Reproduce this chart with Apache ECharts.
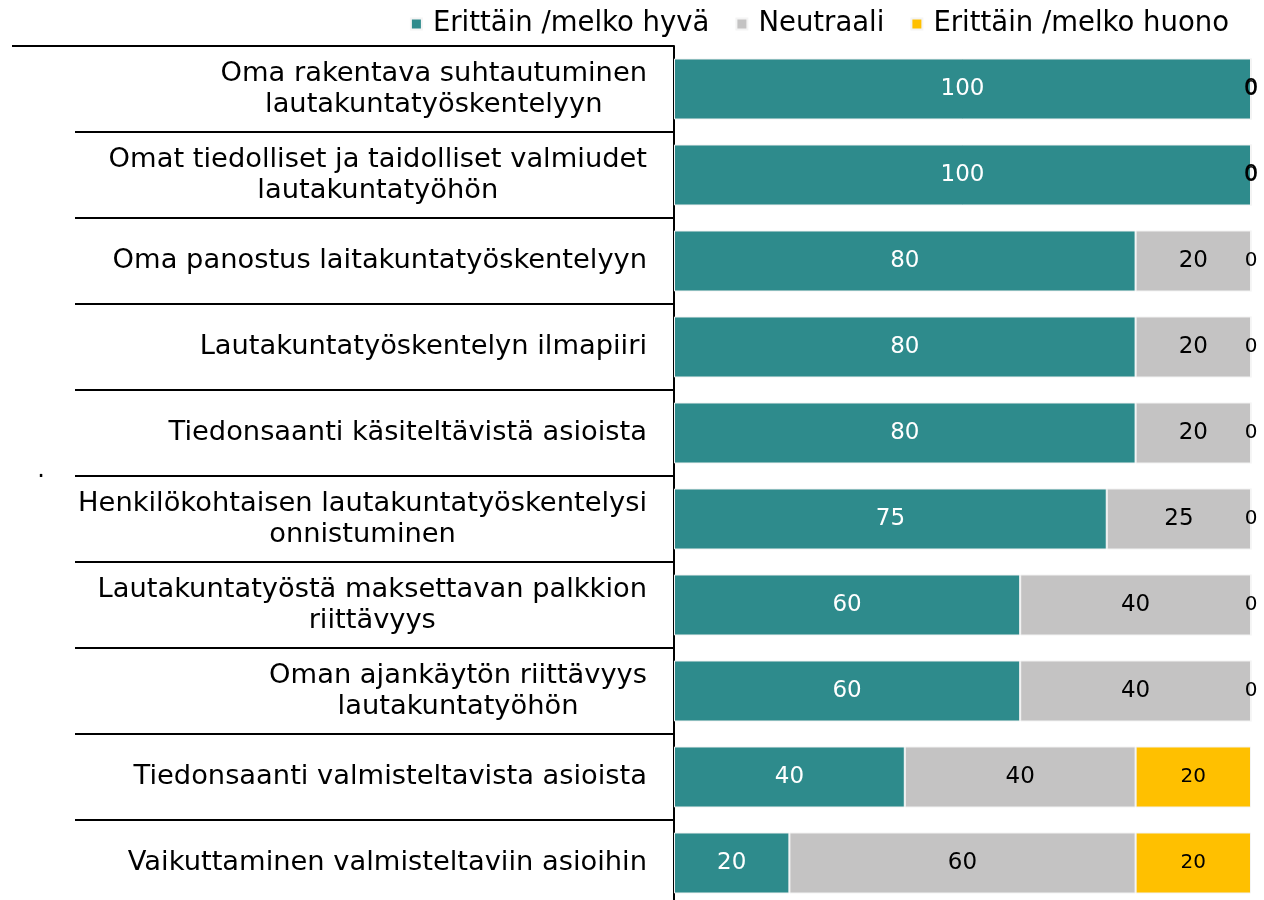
<!DOCTYPE html>
<html>
<head>
<meta charset="utf-8">
<script src="https://cdn.jsdelivr.net/npm/echarts@6/dist/echarts.min.js"></script>
<style>
  html, body { margin: 0; padding: 0; background: #fff; }
  #chart { width: 1264px; height: 900px; }
</style>
</head>
<body>
<div id="chart"></div>
<script>
var categories = [
  "Oma rakentava suhtautuminen\nlautakuntatyöskentelyyn",
  "Omat tiedolliset ja taidolliset valmiudet\nlautakuntatyöhön",
  "Oma panostus laitakuntatyöskentelyyn",
  "Lautakuntatyöskentelyn ilmapiiri",
  "Tiedonsaanti käsiteltävistä asioista",
  "Henkilökohtaisen lautakuntatyöskentelysi\nonnistuminen",
  "Lautakuntatyöstä maksettavan palkkion\nriittävyys",
  "Oman ajankäytön riittävyys\nlautakuntatyöhön",
  "Tiedonsaanti valmisteltavista asioista",
  "Vaikuttaminen valmisteltaviin asioihin"
];
var seriesNames = ["Erittäin /melko hyvä", "Neutraali", "Erittäin /melko huono"];
var goodValues = [100, 100, 80, 80, 80, 75, 60, 60, 40, 20];
var neutralValues = [0, 0, 20, 20, 20, 25, 40, 40, 40, 60];
var badValues = [0, 0, 0, 0, 0, 0, 0, 0, 20, 20];

var FONT = "DejaVu Sans";
var colors = ["#2e8b8c", "#c4c3c3", "#ffc000"];

var chart = echarts.init(document.getElementById("chart"));

function barSeries(name, data, color, labelColor, labelSize) {
  return {
    name: name,
    type: "bar",
    stack: "total",
    barCategoryGap: "29%",
    data: data,
    itemStyle: { color: color, borderColor: "#f4f4f4", borderWidth: 1 },
    label: {
      show: true,
      position: "inside",
      color: labelColor,
      fontFamily: FONT,
      fontSize: labelSize
    }
  };
}

var option = {
  animation: false,
  color: colors,
  textStyle: { fontFamily: FONT },
  legend: {
    data: seriesNames,
    top: 5,
    right: 30,
    icon: "rect",
    itemWidth: 11,
    itemHeight: 11,
    itemGap: 26,
    textStyle: { fontFamily: FONT, fontSize: 27.5, color: "#000", padding: [0, 0, 0, 6] }
  },
  grid: { top: 46, left: 674, width: 577, height: 860, outerBoundsMode: "none" },
  xAxis: { type: "value", min: 0, max: 100, show: false },
  yAxis: {
    type: "category",
    inverse: true,
    data: categories,
    axisLine: { show: true, lineStyle: { color: "#000", width: 2 } },
    axisTick: { show: true, length: 599, lineStyle: { color: "#000", width: 2 } },
    axisLabel: {
      margin: 27,
      formatter: function (v) {
        return v.split("\n").map(function (l) { return "{c|" + l + "}"; }).join("\n");
      },
      rich: {
        c: { align: "center", fontFamily: FONT, fontSize: 27.3, lineHeight: 31, color: "#000" }
      }
    }
  },
  graphic: [
    {
      type: "line",
      shape: { x1: 12, y1: 46, x2: 674, y2: 46 },
      style: { stroke: "#000", lineWidth: 2 }
    },
    {
      type: "text",
      x: 41,
      y: 483,
      style: { text: ".", fontFamily: FONT, fontSize: 24, fill: "#000", textAlign: "center", textVerticalAlign: "bottom" }
    }
  ],
  series: [
    barSeries(seriesNames[0], goodValues, colors[0], "#fff", 23),
    barSeries(seriesNames[1], neutralValues, colors[1], "#000", 23),
    barSeries(seriesNames[2], badValues, colors[2], "#000", 20)
  ]
};

chart.setOption(option);
</script>
</body>
</html>
